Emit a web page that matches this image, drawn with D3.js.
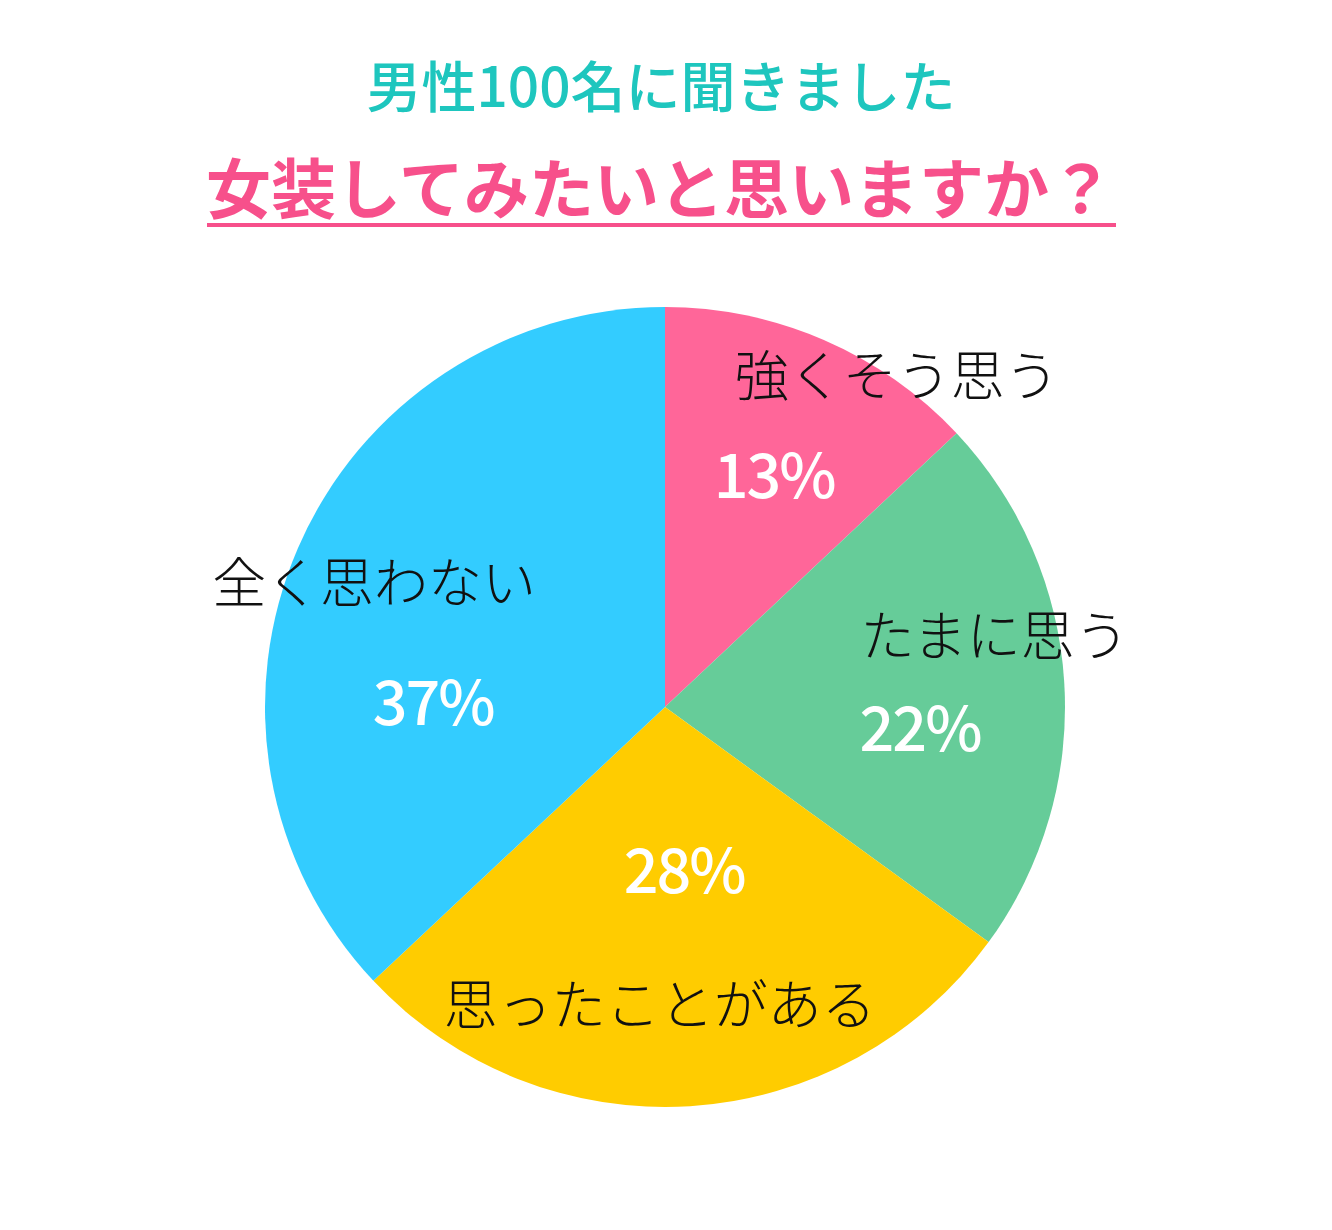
<!DOCTYPE html>
<html>
<head>
<meta charset="utf-8">
<script src="https://cdn.jsdelivr.net/npm/d3@7"></script>
<style>
  body { margin: 0; background: #fff; }
  text { font-family: "Noto Sans CJK JP", "Noto Sans", sans-serif; }
</style>
</head>
<body>
<div id="chart"></div>
<script>
// survey answers, clockwise from 12 o'clock
const categories = ["強くそう思う", "たまに思う", "思ったことがある", "全く思わない"];
const values = [13, 22, 28, 37];
const colors = ["#FF6699", "#66CC99", "#FFCC00", "#33CCFF"];

const subTitle = "男性100名に聞きました";
const mainTitle = "女装してみたいと思いますか？";

// where the texts sit: angle (deg, clockwise from top) and distance from centre
const nameAt = [[35, 404], [78, 337], [181, 299], [293, 316]];
const pctAt = [[25.5, 256], [95, 257], [173, 165], [271, 231]];

const W = 1332, H = 1230;
const cx = 665, cy = 707, R = 400;

let svg = d3.select("#chart")
  .append("svg")
  .attr("width", W)
  .attr("height", H);

// titles
svg.append("text")
  .attr("x", 661).attr("y", 107)
  .attr("text-anchor", "middle")
  .attr("fill", "#1EC6BE")
  .style("font-size", "55px")
  .style("font-weight", 500)
  .text(subTitle);

svg.append("text")
  .attr("x", 660).attr("y", 213)
  .attr("text-anchor", "middle")
  .attr("fill", "#F7508B")
  .style("font-size", "65px")
  .style("font-weight", 700)
  .text(mainTitle);

svg.append("line")
  .attr("x1", 207).attr("x2", 1116)
  .attr("y1", 225).attr("y2", 225)
  .attr("stroke", "#F7508B")
  .attr("stroke-width", 4);

// pie
let pie = d3.pie().sort(null).value(d => d);
let arc = d3.arc().innerRadius(0).outerRadius(R);
let arcs = pie(values);

let g = svg.append("g").attr("transform", `translate(${cx},${cy})`);

g.selectAll("path")
  .data(arcs)
  .enter().append("path")
  .attr("d", arc)
  .attr("fill", (d, i) => colors[i]);

function polar(p) {
  let a = p[0] * Math.PI / 180;
  return [p[1] * Math.sin(a), -p[1] * Math.cos(a)];
}

// category names
g.selectAll(".name")
  .data(arcs)
  .enter().append("text")
  .attr("class", "name")
  .attr("x", (d, i) => polar(nameAt[i])[0])
  .attr("y", (d, i) => polar(nameAt[i])[1])
  .attr("dy", "0.36em")
  .attr("text-anchor", "middle")
  .attr("fill", "#111")
  .style("font-size", "54px")
  .style("font-weight", 300)
  .text((d, i) => categories[i]);

// percentages
g.selectAll(".pct")
  .data(arcs)
  .enter().append("text")
  .attr("class", "pct")
  .attr("x", (d, i) => polar(pctAt[i])[0] - 1)
  .attr("y", (d, i) => polar(pctAt[i])[1])
  .attr("dy", "0.36em")
  .attr("text-anchor", "middle")
  .attr("fill", "#fff")
  .style("font-size", "61px")
  .style("font-weight", 500)
  .style("letter-spacing", "-2px")
  .text(d => d.data + "%");
</script>
</body>
</html>
